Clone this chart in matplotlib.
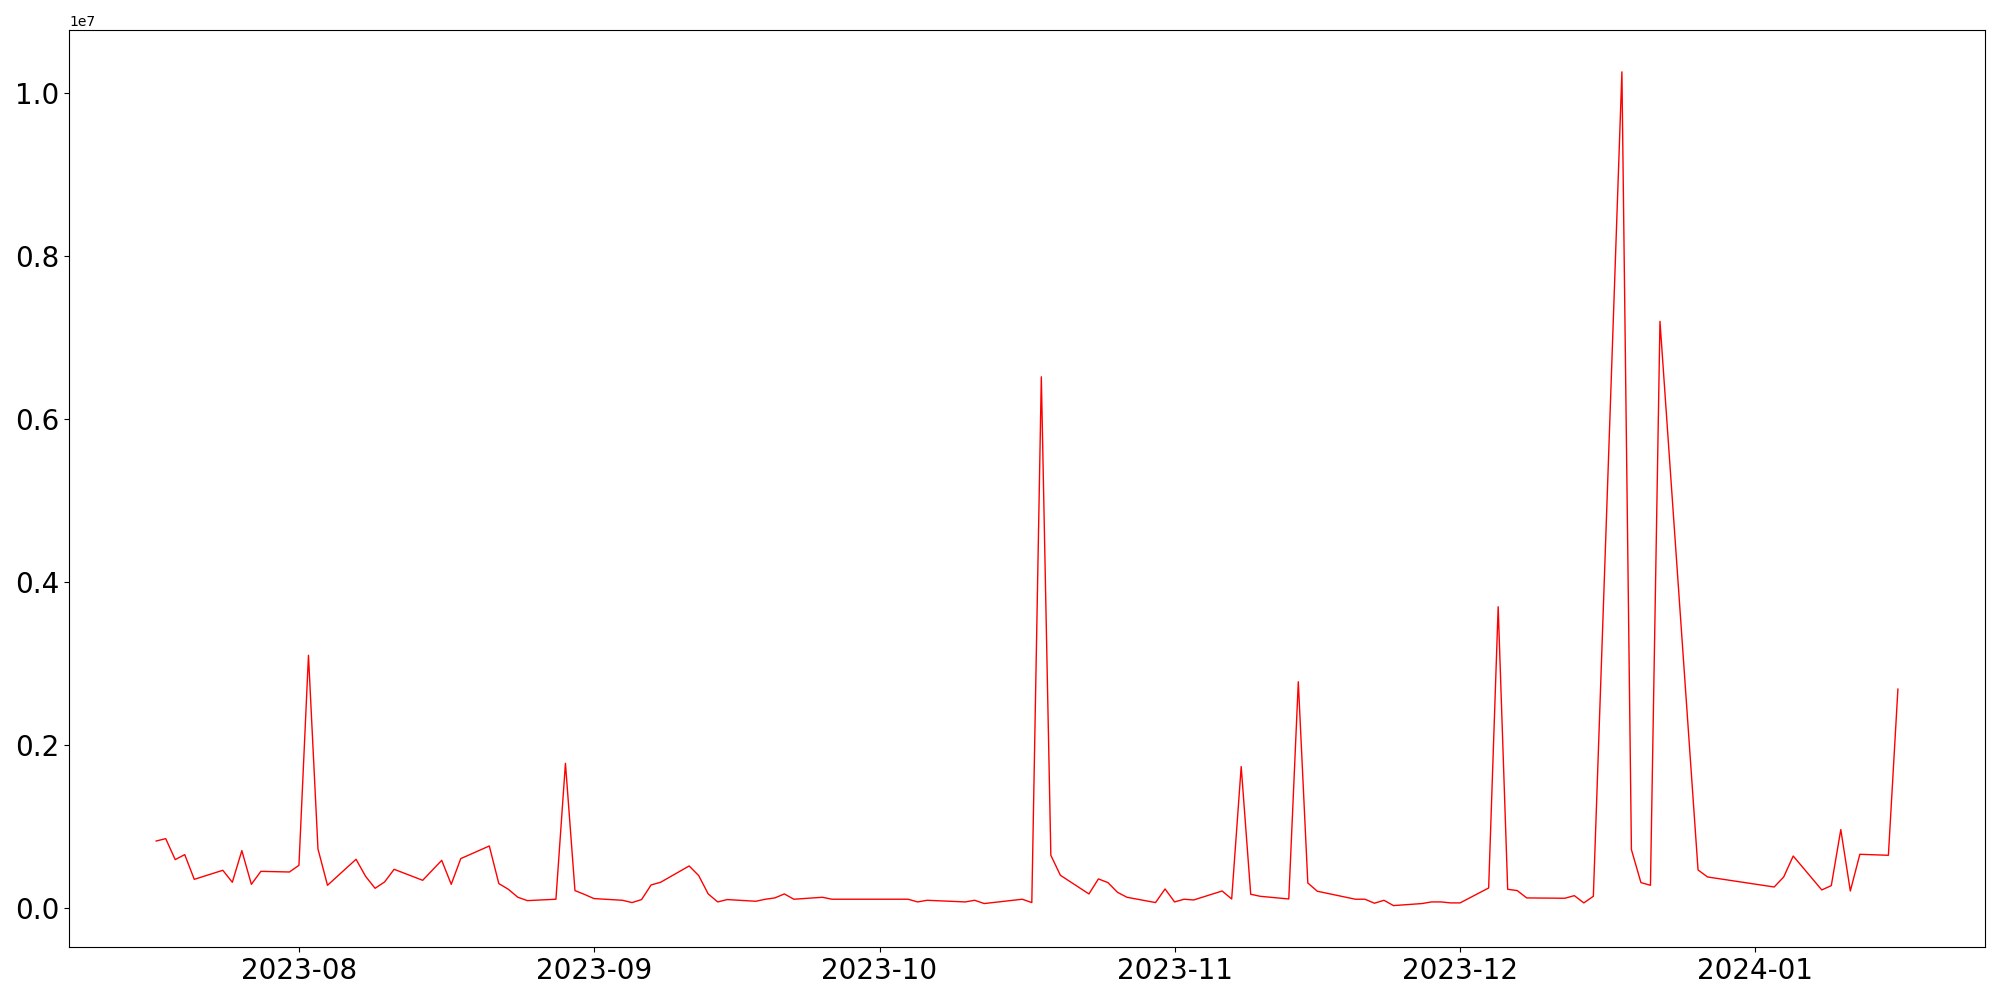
import matplotlib
matplotlib.use('Agg')
import matplotlib.pyplot as plt
import pandas as pd

dates = [
    '2023-07-17', '2023-07-18', '2023-07-19', '2023-07-20', '2023-07-21',
    '2023-07-24', '2023-07-25', '2023-07-26', '2023-07-27', '2023-07-28',
    '2023-07-31', '2023-08-01', '2023-08-02', '2023-08-03', '2023-08-04',
    '2023-08-07', '2023-08-08', '2023-08-09', '2023-08-10', '2023-08-11',
    '2023-08-14', '2023-08-16', '2023-08-17', '2023-08-18',
    '2023-08-21', '2023-08-22', '2023-08-23', '2023-08-24', '2023-08-25',
    '2023-08-28', '2023-08-29', '2023-08-30', '2023-08-31', '2023-09-01',
    '2023-09-04', '2023-09-05', '2023-09-06', '2023-09-07', '2023-09-08',
    '2023-09-11', '2023-09-12', '2023-09-13', '2023-09-14', '2023-09-15',
    '2023-09-18', '2023-09-19', '2023-09-20', '2023-09-21', '2023-09-22',
    '2023-09-25', '2023-09-26', '2023-10-04', '2023-10-05', '2023-10-06',
    '2023-10-10', '2023-10-11', '2023-10-12',
    '2023-10-16', '2023-10-17', '2023-10-18', '2023-10-19', '2023-10-20',
    '2023-10-23', '2023-10-24', '2023-10-25', '2023-10-26', '2023-10-27',
    '2023-10-30', '2023-10-31', '2023-11-01', '2023-11-02', '2023-11-03',
    '2023-11-06', '2023-11-07', '2023-11-08', '2023-11-09', '2023-11-10',
    '2023-11-13', '2023-11-14', '2023-11-15', '2023-11-16',
    '2023-11-20', '2023-11-21', '2023-11-22', '2023-11-23', '2023-11-24',
    '2023-11-27', '2023-11-28', '2023-11-29', '2023-11-30', '2023-12-01',
    '2023-12-04', '2023-12-05', '2023-12-06', '2023-12-07', '2023-12-08',
    '2023-12-12', '2023-12-13', '2023-12-14', '2023-12-15',
    '2023-12-18', '2023-12-19', '2023-12-20', '2023-12-21', '2023-12-22',
    '2023-12-26', '2023-12-27',
    '2024-01-03', '2024-01-04', '2024-01-05',
    '2024-01-08', '2024-01-09', '2024-01-10', '2024-01-11', '2024-01-12',
    '2024-01-15', '2024-01-16',
]

# values in thousands
values_k = [
    827, 856, 599, 660, 357,
    468, 321, 709, 296, 455,
    447, 529, 3105, 729, 284,
    603, 394, 247, 325, 480,
    345, 590, 296, 611,
    766, 305, 235, 137, 96,
    113, 1780, 219, 172, 121,
    100, 72, 109, 288, 321,
    521, 403, 178, 80, 109,
    88, 113, 129, 178, 113,
    137, 113, 113, 80, 100,
    80, 100, 60,
    113, 72, 6520, 652, 407,
    178, 362, 317, 198, 137,
    72, 239, 80, 113, 104,
    214, 116, 1740, 174, 149,
    116, 2780, 312, 211,
    113, 113, 64, 100, 35,
    60, 80, 80, 68, 68,
    251, 3700, 235, 219, 129,
    125, 157, 68, 149,
    10260, 721, 317, 284, 7200,
    472, 386,
    263, 386, 643,
    227, 280, 967, 214, 664,
    652, 2690,
]

x = pd.to_datetime(dates)
y = [v * 1000 for v in values_k]

fig, ax = plt.subplots(figsize=(20, 10), dpi=100)
ax.plot(x, y, color='red', linewidth=1)
ax.tick_params(axis='both', labelsize=20)
plt.tight_layout()
plt.savefig('out.png')
